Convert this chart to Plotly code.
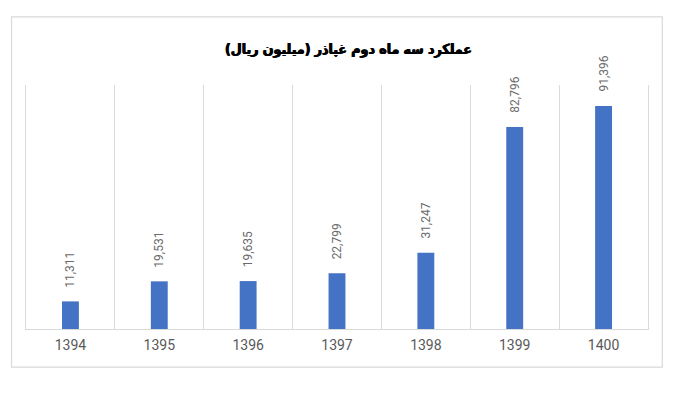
import plotly.graph_objects as go

years = ["1394", "1395", "1396", "1397", "1398", "1399", "1400"]
values = [11311, 19531, 19635, 22799, 31247, 82796, 91396]
labels = ["11,311", "19,531", "19,635", "22,799", "31,247", "82,796", "91,396"]
title_text = "عملکرد سه ماه دوم غپاذر (میلیون ریال)"

idx = list(range(len(years)))
bounds = [i - 0.5 for i in range(len(years) + 1)]

fig = go.Figure()
fig.add_trace(go.Bar(
    x=idx, y=values,
    marker=dict(color="#4472C4", line=dict(width=0)),
    width=0.19,
    hoverinfo="skip",
))

for i, v, lab in zip(idx, values, labels):
    fig.add_annotation(
        x=i, y=v, text=lab, textangle=-90, showarrow=False,
        xanchor="center", yanchor="bottom", yshift=12,
        font=dict(family="Roboto", size=12, color="#6b6b6b"),
    )

fig.add_annotation(
    xref="paper", yref="paper", x=0.518, y=1.145, text="<b>" + title_text + "</b>",
    showarrow=False, xanchor="center", yanchor="middle",
    font=dict(family="DejaVu Sans Condensed, DejaVu Sans", size=14, color="#000000",
              shadow="0.5px 0px 0px #000, -0.5px 0px 0px #000"),
)

fig.add_shape(
    type="rect", xref="paper", yref="paper",
    x0=-0.0233, x1=1.023, y0=-0.156, y1=1.279,
    line=dict(color="#d9d9d9", width=1.2), fillcolor="rgba(0,0,0,0)", layer="below",
)

fig.update_layout(
    width=692, height=392,
    margin=dict(l=18, r=52, t=77, b=71),
    paper_bgcolor="white", plot_bgcolor="white",
    showlegend=False,
    xaxis=dict(
        type="linear", range=[-0.5, len(years) - 0.5],
        tickmode="array", tickvals=idx, ticktext=years,
        showgrid=False, showline=True, linecolor="#d9d9d9", linewidth=1, ticks="", zeroline=False,
        minor=dict(tickmode="array", tickvals=bounds, showgrid=True, gridcolor="#d9d9d9", gridwidth=1, ticks=""),
        tickfont=dict(family="Roboto", size=14, color="#595959"),
        ticklabelstandoff=3,
        fixedrange=True,
    ),
    yaxis=dict(range=[0, 100000], visible=True, showticklabels=False, ticks="",
               showline=True, mirror=True, linecolor="#d9d9d9", linewidth=1,
               showgrid=False, zeroline=False, fixedrange=True),
)

fig.write_html("out.html")
